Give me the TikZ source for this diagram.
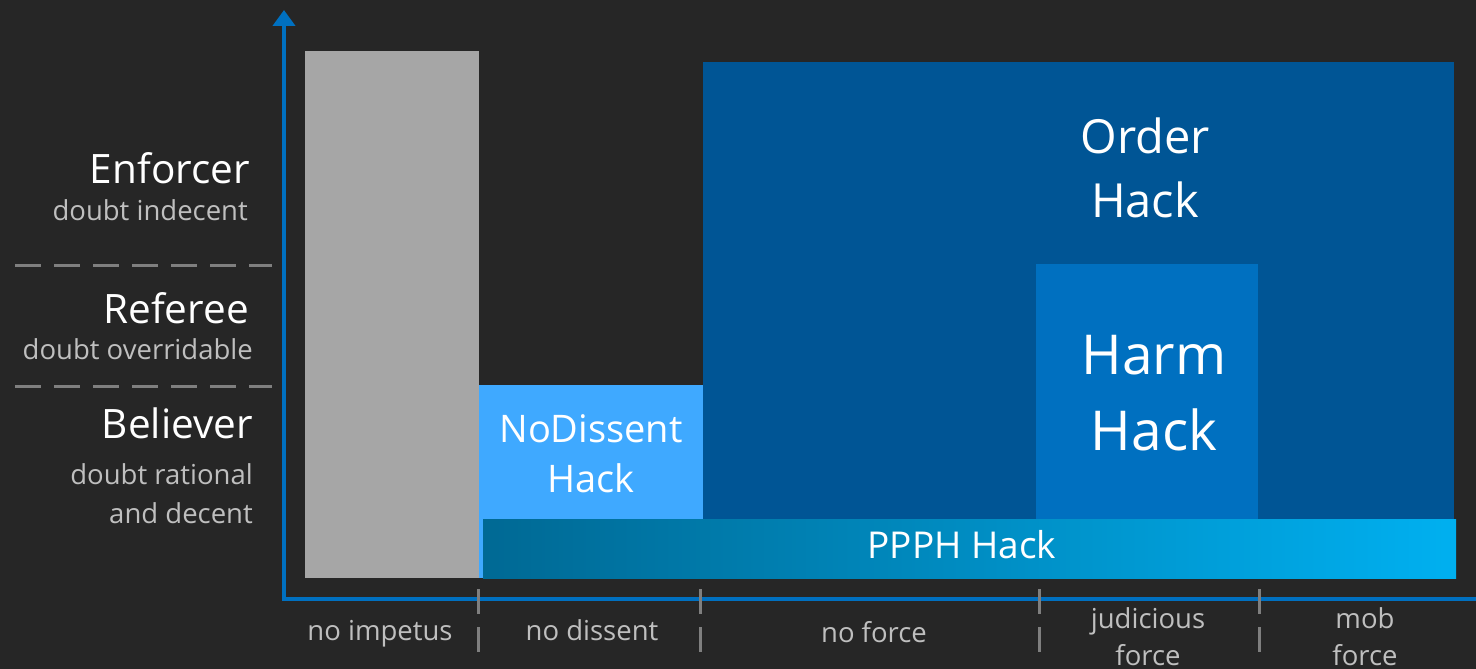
\documentclass[tikz,border=0pt]{standalone}
\usepackage{fontspec}
\setmainfont{Open Sans}
\usetikzlibrary{arrows.meta}
\definecolor{bg}{HTML}{262626}
\definecolor{axisblue}{HTML}{0070C0}
\definecolor{guidegray}{HTML}{7F7F7F}
\definecolor{softgray}{HTML}{BFBFBF}
\definecolor{bargray}{HTML}{A6A6A6}
\definecolor{dissentblue}{HTML}{3FA9FF}
\definecolor{orderblue}{HTML}{005595}
\definecolor{harmblue}{HTML}{0070C0}
\definecolor{ppphleft}{HTML}{006994}
\definecolor{ppphright}{HTML}{00B0F0}
\newcommand{\rolesize}{\fontsize{40.5}{48}\selectfont}
\newcommand{\notesize}{\fontsize{27.5}{39}\selectfont}
\newcommand{\ticksize}{\fontsize{27.5}{37}\selectfont}
\tikzset{
  every picture/.style = {line join=round},
  axis/.style          = {line width=4pt, draw=axisblue},
  guide/.style         = {line width=3pt, draw=guidegray, dash pattern=on 26pt off 13pt},
  role/.style          = {anchor=base east, text=white, font=\rolesize, inner sep=0pt},
  doubt/.style         = {anchor=base east, text=softgray, font=\notesize, align=right, inner sep=0pt},
  hack/.style          = {anchor=base, text=white, align=center, inner sep=0pt},
  ticklabel/.style     = {anchor=base, text=softgray, font=\ticksize, align=center, inner sep=0pt},
}

\begin{document}
\begin{tikzpicture}[x=1pt, y=-1pt]
  \def\Ax{284}\def\Ay{599}   % where the two axes meet
  \def\Bt{578}               % bottom edge of all the bars
  % (two-line nodes sit on the baseline of their last line)

  \useasboundingbox (0,0) rectangle (1476,669);
  \fill[bg] (0,0) rectangle (1476,669);
  \clip (0,0) rectangle (1476,669);

  \coordinate (O)    at (\Ax,\Ay);
  \coordinate (Ytop) at (\Ax,10);
  \coordinate (Xend) at (1492,\Ay);

  % ---------- the bars ---------------------------------------------------------
  \fill[bargray]     (305,51)  rectangle (479,\Bt);    % no impetus
  \fill[dissentblue] (479,385) rectangle (703,\Bt);    % no dissent
  \fill[orderblue]   (703,62)  rectangle (1454,\Bt);   % force, all of it
  \fill[harmblue]    (1036,264) rectangle (1258,\Bt);  % judicious force
  \shade[left color=ppphleft, right color=ppphright] (483,519) rectangle (1456,\Bt);

  % ---------- axes and guides -------------------------------------------------
  \draw[guide] (15,265) -- (272,265);
  \draw[guide] (15,386) -- (272,386);
  \draw[axis, -{Triangle[length=16pt, width=22pt]}] ([yshift=2pt]O) -- (Ytop);
  \draw[axis, -{Triangle[length=16pt, width=22pt]}] ([xshift=-2pt]O) -- (Xend);
  \foreach \tx in {478,700,1039,1259}
    \draw[guide, dash pattern=on 25pt off 13pt] (\tx,589) -- (\tx,657);

  % ---------- the three roles -------------------------------------------------
  \node[role]  (Enf)  at (250,183) {Enforcer};
  \node[doubt] (EnfD) at (248,220) {doubt indecent};
  \node[role]  (Ref)  at (249,323) {Referee};
  \node[doubt] (RefD) at (253,359) {doubt overridable};
  \node[role]  (Bel)  at (253,438) {Believer};
  \node[doubt] (BelD) at (253,523) {doubt rational\\and decent};

  % ---------- the hacks -------------------------------------------------------
  \node[hack, font=\fontsize{38}{50}\selectfont] (NoD)   at (591,492)  {NoDissent\\Hack};
  \node[hack, font=\fontsize{47}{64}\selectfont] (Order) at (1145,217) {Order\\Hack};
  \node[hack, font=\fontsize{55}{76}\selectfont] (Harm)  at (1154,450) {Harm\\Hack};
  \node[hack, font=\fontsize{37}{44}\selectfont] (PPPH)  at (962,558)  {PPPH Hack};

  % ---------- along the x axis ------------------------------------------------
  \node[ticklabel] (Imp)  at (380,640)  {no impetus};
  \node[ticklabel] (Dis)  at (592,640)  {no dissent};
  \node[ticklabel] (NoF)  at (874,642)  {no force};
  \node[ticklabel] (Jud)  at (1148,665) {judicious\\force};
  \node[ticklabel] (Mob)  at (1365,665) {mob\\force};
\end{tikzpicture}
\end{document}
